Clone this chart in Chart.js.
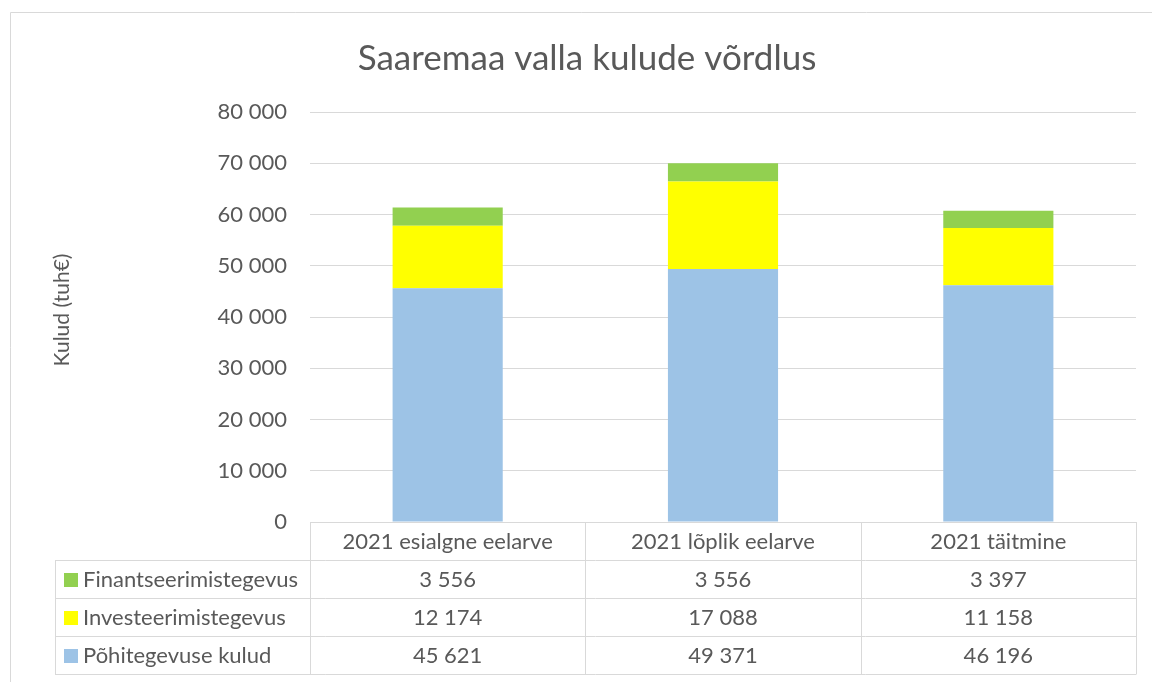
<!DOCTYPE html>
<html><head><meta charset="utf-8">
<script src="https://cdn.jsdelivr.net/npm/chart.js@4/dist/chart.umd.min.js"></script>
<style>html,body{margin:0;padding:0;background:#fff}#wrap{width:1152px;height:682px;position:relative}</style>
</head><body><div id="wrap"><canvas id="c" width="1152" height="682"></canvas></div>
<script>
const categories = ['2021 esialgne eelarve', '2021 lõplik eelarve', '2021 täitmine'];
const seriesNames = ['Põhitegevuse kulud', 'Investeerimistegevus', 'Finantseerimistegevus'];
const pohitegevus = [45621, 49371, 46196];
const investeerimine = [12174, 17088, 11158];
const finantseerimine = [3556, 3556, 3397];
const yTickValues = [0, 10000, 20000, 30000, 40000, 50000, 60000, 70000, 80000];
const titleText = 'Saaremaa valla kulude võrdlus';
const yTitleText = 'Kulud (tuh€)';

const colors = ['#9DC3E6', '#FFFF00', '#92D050'];
const FONT = 'Lato, "Open Sans", sans-serif';
const TXT = '#595959';
const LINE = '#d9d9d9';

function fmt(v) { return String(v).replace(/\B(?=(\d{3})+(?!\d))/g, ' '); }

const seriesData = [pohitegevus, investeerimine, finantseerimine];

const decor = {
  id: 'decor',
  afterDraw(chart) {
    const ctx = chart.ctx;
    const ca = chart.chartArea;
    const xs = chart.scales.x;
    ctx.save();
    // frame
    ctx.strokeStyle = LINE; ctx.lineWidth = 1;
    ctx.beginPath();
    ctx.moveTo(10.5, 682); ctx.lineTo(10.5, 12.5); ctx.lineTo(1152, 12.5);
    ctx.stroke();
    // title
    ctx.fillStyle = TXT;
    ctx.font = '35px ' + FONT;
    ctx.textAlign = 'center'; ctx.textBaseline = 'alphabetic';
    ctx.fillText(titleText, 587, 70);
    // y title
    ctx.save();
    ctx.translate(62, 310); ctx.rotate(-Math.PI / 2);
    ctx.textBaseline = 'middle';
    ctx.font = '21px ' + FONT;
    ctx.fillText(yTitleText, 0, 0);
    ctx.restore();
    // table
    const n = categories.length;
    const half = (xs.getPixelForValue(1) - xs.getPixelForValue(0)) / 2;
    const bounds = [];
    for (let i = 0; i < n; i++) bounds.push(xs.getPixelForValue(i) - half);
    bounds.push(xs.getPixelForValue(n - 1) + half);
    const top = ca.bottom;
    const rowH = 38;
    const legendLeft = 55;
    const nRows = seriesNames.length;
    const bottom = top + rowH * (nRows + 1);
    ctx.strokeStyle = LINE;
    ctx.beginPath();
    for (let r = 1; r <= nRows + 1; r++) {
      const y = Math.round(top + r * rowH) + 0.5;
      ctx.moveTo(legendLeft, y); ctx.lineTo(bounds[n], y);
    }
    ctx.moveTo(legendLeft + 0.5, top + rowH); ctx.lineTo(legendLeft + 0.5, bottom);
    bounds.forEach(b => { const x = Math.round(b) + 0.5; ctx.moveTo(x, top); ctx.lineTo(x, bottom + 0.5); });
    ctx.stroke();
    ctx.fillStyle = TXT;
    ctx.font = '22px ' + FONT;
    ctx.textAlign = 'center'; ctx.textBaseline = 'middle';
    categories.forEach((c, i) => ctx.fillText(c, xs.getPixelForValue(i), top + rowH / 2 + 1));
    for (let r = 0; r < nRows; r++) {
      const si = nRows - 1 - r;
      const yc = top + rowH * (r + 1) + rowH / 2 + 1;
      ctx.fillStyle = colors[si];
      ctx.fillRect(64, Math.round(yc - 7), 14, 14);
      ctx.fillStyle = TXT;
      ctx.textAlign = 'left';
      ctx.fillText(seriesNames[si], 83, yc);
      ctx.textAlign = 'center';
      seriesData[si].forEach((v, i) => ctx.fillText(fmt(v), xs.getPixelForValue(i), yc));
    }
    ctx.restore();
  }
};

new Chart(document.getElementById('c'), {
  type: 'bar',
  data: {
    labels: categories,
    datasets: seriesData.map((d, i) => ({
      label: seriesNames[i], data: d, backgroundColor: colors[i],
      borderWidth: 0, categoryPercentage: 1, barPercentage: 0.4
    }))
  },
  options: {
    responsive: false, animation: false,
    layout: { padding: { top: 112, bottom: 160, left: 0, right: 16 } },
    plugins: { legend: { display: false }, title: { display: false }, tooltip: { enabled: false } },
    scales: {
      x: { stacked: true, display: false },
      y: {
        stacked: true, min: 0, max: 80000,
        afterFit(s) { s.width = 310; },
        afterBuildTicks(s) { s.ticks = yTickValues.map(v => ({ value: v })); },
        grid: { color: LINE, drawTicks: false, lineWidth: 1 },
        border: { display: false },
        ticks: { color: TXT, font: { family: FONT, size: 22 }, padding: 23, callback: v => fmt(v) }
      }
    }
  },
  plugins: [decor]
});
</script></body></html>
